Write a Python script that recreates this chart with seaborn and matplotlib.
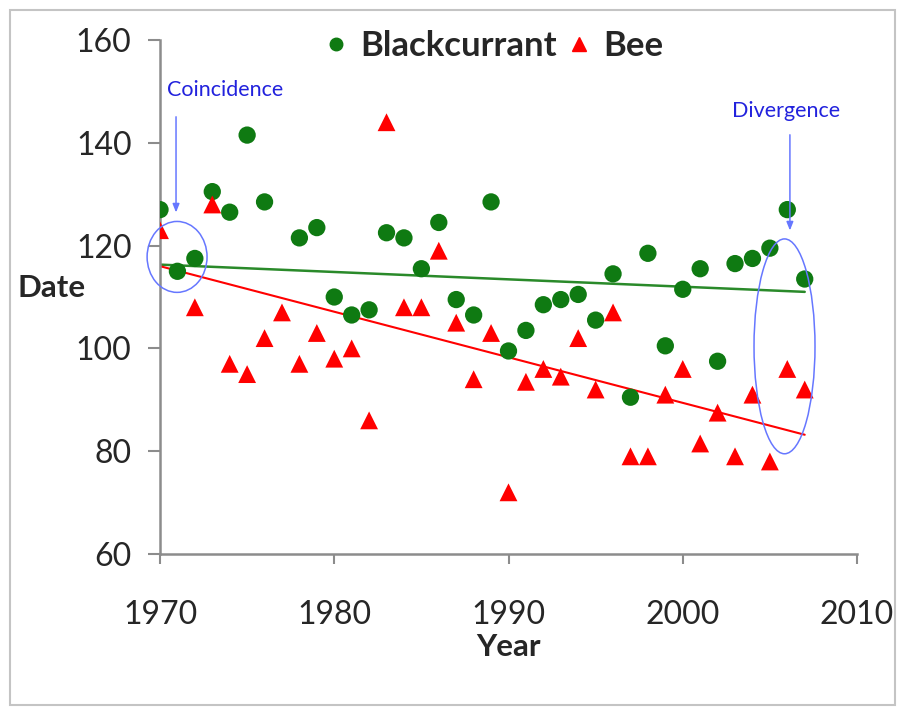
import numpy as np
import pandas as pd
import matplotlib.pyplot as plt
import seaborn as sns
from matplotlib.patches import Ellipse, Rectangle
from matplotlib.lines import Line2D


years_currant = [1970, 1971, 1972, 1973, 1974, 1975, 1976, 1978, 1979, 1980,
                 1981, 1982, 1983, 1984, 1985, 1986, 1987, 1988, 1989, 1990,
                 1991, 1992, 1993, 1994, 1995, 1996, 1997, 1998, 1999, 2000,
                 2001, 2002, 2003, 2004, 2005, 2006, 2007]
currant = [127, 115, 117.5, 130.5, 126.5, 141.5, 128.5, 121.5, 123.5, 110,
           106.5, 107.5, 122.5, 121.5, 115.5, 124.5, 109.5, 106.5, 128.5, 99.5,
           103.5, 108.5, 109.5, 110.5, 105.5, 114.5, 90.5, 118.5, 100.5, 111.5,
           115.5, 97.5, 116.5, 117.5, 119.5, 127, 113.5]

years_bee = [1970, 1972, 1973, 1974, 1975, 1976, 1977, 1978, 1979, 1980,
             1981, 1982, 1983, 1984, 1985, 1986, 1987, 1988, 1989, 1990,
             1991, 1992, 1993, 1994, 1995, 1996, 1997, 1998, 1999, 2000,
             2001, 2002, 2003, 2004, 2005, 2006, 2007]
bee = [123, 108, 128, 97, 95, 102, 107, 97, 103, 98,
       100, 86, 144, 108, 108, 119, 105, 94, 103, 72,
       93.5, 96, 94.5, 102, 92, 107, 79, 79, 91, 96,
       81.5, 87.5, 79, 91, 78, 96, 92]

# trend lines as drawn in the original (end points)
trend_years = [1970, 2007]
currant_trend = [116.3, 111.0]
bee_trend = [116.0, 83.2]

currant_df = pd.DataFrame({'Year': years_currant, 'Date': currant})
bee_df = pd.DataFrame({'Year': years_bee, 'Date': bee})

GREEN = '#0f7a12'
GREEN_LINE = '#2a8a2a'
RED = '#ff0000'
BLUE = '#2222dd'
BLUE_LIGHT = '#6677ff'
GREY = '#8c8c8c'

sns.set_style("white")
plt.rcParams['font.family'] = ['Lato', 'DejaVu Sans']

fig = plt.figure(figsize=(9.01, 7.07), dpi=100)
ax = fig.add_axes([160 / 901, 153 / 707, 697 / 901, 514 / 707])

sns.lineplot(x=trend_years, y=currant_trend, color=GREEN_LINE, lw=1.8, ax=ax)
sns.lineplot(x=trend_years, y=bee_trend, color=RED, lw=1.5, ax=ax)
sns.scatterplot(x='Year', y='Date', data=currant_df, color=GREEN, marker='o',
                s=155, edgecolor='none', ax=ax, zorder=3)
sns.scatterplot(x='Year', y='Date', data=bee_df, color=RED, marker='^',
                s=165, edgecolor='none', ax=ax, zorder=3)

ax.set_xlim(1970, 2010)
ax.set_ylim(60, 160)
ax.set_xticks([1970, 1980, 1990, 2000, 2010])
ax.set_yticks([60, 80, 100, 120, 140, 160])
sns.despine(ax=ax)
for side in ['left', 'bottom']:
    ax.spines[side].set_color(GREY)
    ax.spines[side].set_linewidth(1.8)
ax.tick_params(axis='y', direction='out', length=8.5, width=1.5, color=GREY,
               labelsize=23, pad=12, left=True)
ax.tick_params(axis='x', direction='out', length=7, width=1.5, color=GREY,
               labelsize=23, pad=26, bottom=True)

ax.set_xlabel('Year', fontsize=22.5, fontweight='bold', va='center')
ax.xaxis.set_label_coords(0.5, -0.181)
ax.set_ylabel('Date', fontsize=22.5, fontweight='bold', rotation=0,
              ha='center', va='center')
ax.yaxis.set_label_coords(-0.155, 0.5175)

# annotations
ax.add_patch(Ellipse((1970.98, 117.8), 3.44, 13.8, fill=False,
                     edgecolor=BLUE_LIGHT, lw=1.1, clip_on=False, zorder=4))
ax.add_patch(Ellipse((2005.84, 100.4), 3.5, 41.8, fill=False,
                     edgecolor=BLUE_LIGHT, lw=1.1, clip_on=False, zorder=4))
ax.annotate('', xy=(1970.92, 125.9), xytext=(1970.92, 145.6),
            arrowprops=dict(arrowstyle='-|>,head_length=0.5,head_width=0.2',
                            color=BLUE_LIGHT, lw=1.1))
ax.annotate('', xy=(2006.15, 122.4), xytext=(2006.15, 142.1),
            arrowprops=dict(arrowstyle='-|>,head_length=0.5,head_width=0.2',
                            color=BLUE_LIGHT, lw=1.1))
ax.text(1973.73, 150.3, 'Coincidence', color=BLUE, fontsize=15.5,
        ha='center', va='center')
ax.text(2005.93, 146.2, 'Divergence', color=BLUE, fontsize=15.5,
        ha='center', va='center')

handles = [Line2D([], [], ls='none', marker='o', color=GREEN, markersize=9),
           Line2D([], [], ls='none', marker='^', color=RED, markersize=10)]
fig.legend(handles, ['Blackcurrant', 'Bee'], loc='center',
           bbox_to_anchor=(0.545, 0.935), ncol=2, frameon=False,
           prop={'size': 25, 'weight': 'bold'}, handletextpad=0.2,
           columnspacing=0.15, handlelength=1.0)

fig.add_artist(Rectangle((10 / 901, 2 / 707), 885 / 901, 695 / 707,
                         transform=fig.transFigure, fill=False,
                         edgecolor='#c4c4c4', lw=1.5))

fig.savefig('out.png', dpi=100)
